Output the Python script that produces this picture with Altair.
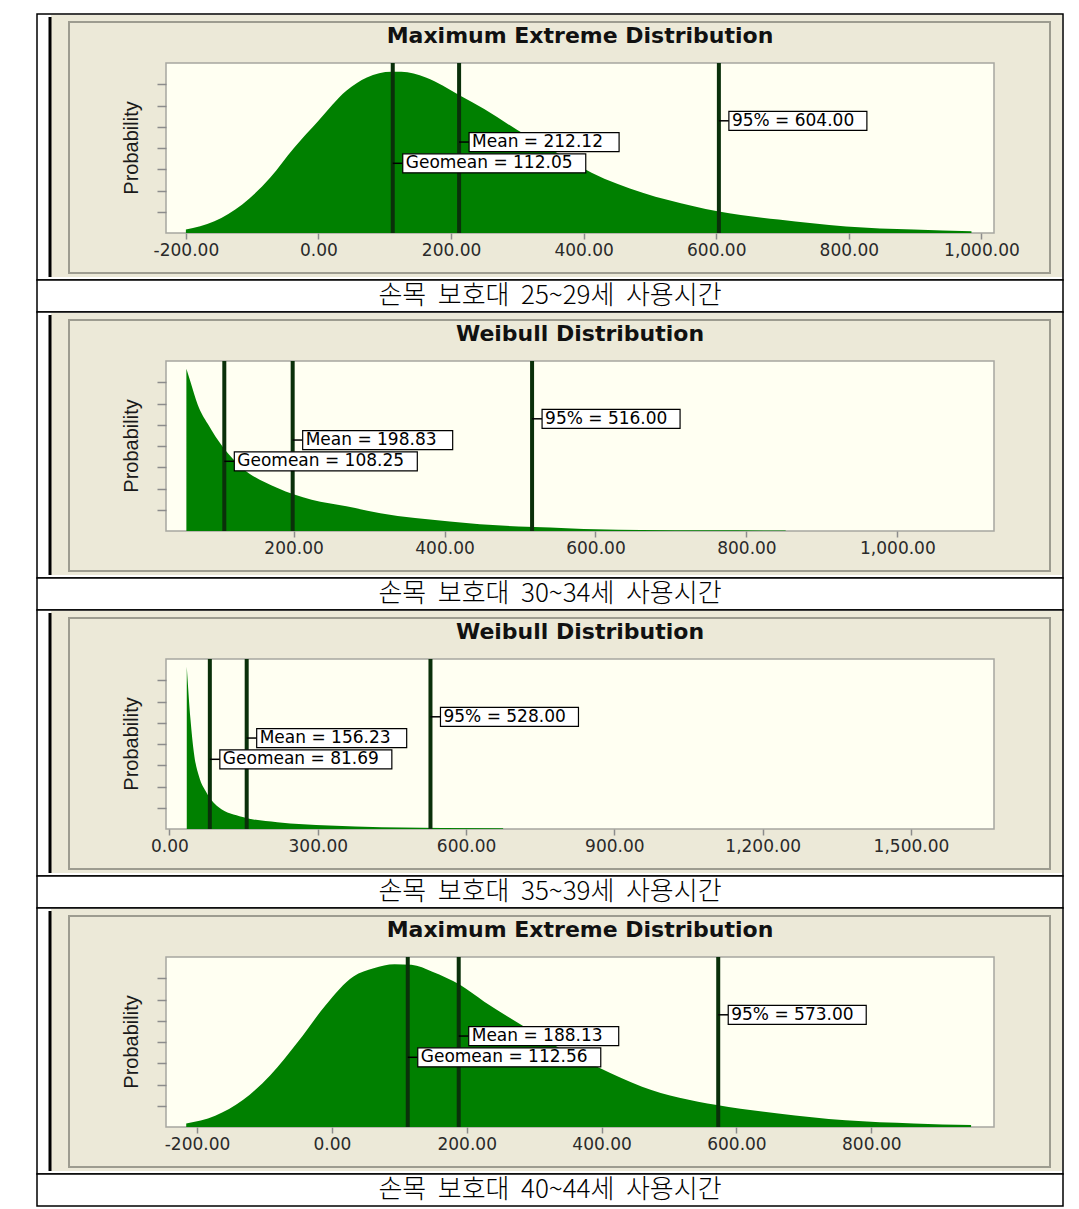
import altair as alt
import pandas as pd

# ---------------- data ----------------
titles = ["Maximum Extreme Distribution", "Weibull Distribution",
          "Weibull Distribution", "Maximum Extreme Distribution"]
captions = ["손목 보호대 25~29세 사용시간", "손목 보호대 30~34세 사용시간",
            "손목 보호대 35~39세 사용시간", "손목 보호대 40~44세 사용시간"]

x_25 = [-200, -157, -115, -73, -37, 0, 42, 73, 110, 125, 162, 214, 250, 300, 350,
        412, 489, 566, 602, 694, 796, 898, 985]
p_25 = [0.16, 0.55, 1.34, 2.6, 4.0, 5.28, 6.69, 7.32, 7.59, 7.59, 7.32, 6.46, 5.83,
        4.85, 3.95, 2.83, 1.89, 1.26, 1.02, 0.63, 0.31, 0.16, 0.08]

x_30 = [58, 63.6, 72.8, 86.5, 107, 132, 178, 224, 270, 315, 407, 498, 540, 569,
        600, 660, 750, 852]
p_30 = [7.63, 7.0, 5.97, 5.03, 3.92, 2.97, 2.03, 1.47, 1.16, 0.84, 0.45, 0.21, 0.16,
        0.12, 0.08, 0.05, 0.03, 0.02]

x_35 = [35, 42.5, 49.5, 60, 74, 99, 148, 218, 323, 429, 675]
p_35 = [7.64, 5.17, 3.58, 2.46, 1.75, 1.03, 0.56, 0.32, 0.16, 0.08, 0.03]

x_40 = [-216, -173, -132, -91, -50, -9, 32, 62, 93, 118, 149, 190, 226, 277, 330,
        395, 460, 571, 662, 762, 863, 948]
p_40 = [0.17, 0.53, 1.27, 2.45, 4.02, 5.74, 7.08, 7.47, 7.66, 7.63, 7.31, 6.69, 5.9,
        4.88, 3.85, 2.81, 1.9, 1.03, 0.64, 0.32, 0.17, 0.09]

curves_x = [x_25, x_30, x_35, x_40]
curves_p = [p_25, p_30, p_35, p_40]

mean_vals = [212.12, 198.83, 156.23, 188.13]
geomean_vals = [112.05, 108.25, 81.69, 112.56]
p95_vals = [604.00, 516.00, 528.00, 573.00]

x_domains = [[-230, 1019], [31, 1128], [-7, 1668], [-246, 982]]
x_ticks = [[-200, 0, 200, 400, 600, 800, 1000],
           [200, 400, 600, 800, 1000],
           [0, 300, 600, 900, 1200, 1500],
           [-200, 0, 200, 400, 600, 800]]
y_ticks = [1, 2, 3, 4, 5, 6, 7]
label_levels = [5.28, 4.28, 3.28]   # 95%, Mean, Geomean

# ---------------- style ----------------
W, H = 828, 170
GREEN = "#008000"
LINE = "#0A300A"
BEIGE = "#ECE9D8"
IVORY = "#FFFFF2"
MINUS = "\u2212"
WIDE_SPACE = "\u00a0\u00a0"


def panel(i):
    xscale = alt.Scale(domain=x_domains[i], nice=False, zero=False)
    yscale = alt.Scale(domain=[0, 8], nice=False)
    xaxis = alt.Axis(values=x_ticks[i], title=None, grid=False, domain=False,
                     labelExpr=f"replace(format(datum.value, ',.2f'), '{MINUS}', '-')",
                     tickColor="#8C8C8C", tickSize=6, tickWidth=1.5,
                     labelFont="DejaVu Sans", labelFontSize=17, labelColor="#2A2A2A",
                     labelPadding=3, labelOverlap=False, labelFlush=False, zindex=1)
    yaxis = alt.Axis(values=y_ticks, labels=False, title=None, grid=False, domain=False,
                     tickColor="#8C8C8C", tickSize=9, tickWidth=1.5, zindex=1)

    one = alt.Chart(pd.DataFrame({"k": [0]}))

    cell = one.mark_rect(fill="white", stroke="black", strokeWidth=1.5).encode(
        x=alt.value(-129), x2=alt.value(897), y=alt.value(-49), y2=alt.value(217))
    beige = one.mark_rect(fill=BEIGE).encode(
        x=alt.value(-115), x2=alt.value(896), y=alt.value(-48), y2=alt.value(214))
    thick = one.mark_rule(color="black", strokeWidth=3).encode(
        x=alt.value(-116), y=alt.value(-46), y2=alt.value(214))
    frame = one.mark_rect(fill=BEIGE, stroke="#9D9C90", strokeWidth=2).encode(
        x=alt.value(-97), x2=alt.value(884), y=alt.value(-41), y2=alt.value(210))
    cap_box = one.mark_rect(fill="white", stroke="black", strokeWidth=1.5).encode(
        x=alt.value(-129), x2=alt.value(897), y=alt.value(217), y2=alt.value(249))
    plot_bg = one.mark_rect(fill=IVORY, stroke="#A7A7A0", strokeWidth=1.5).encode(
        x=alt.value(0), x2=alt.value(W), y=alt.value(0), y2=alt.value(H))

    df = pd.DataFrame({"x": curves_x[i], "p": curves_p[i]})
    area = alt.Chart(df).mark_area(color=GREEN, interpolate="monotone").encode(
        x=alt.X("x:Q", scale=xscale, axis=xaxis),
        y=alt.Y("p:Q", scale=yscale, axis=yaxis))

    labels = [f"95% = {p95_vals[i]:.2f}", f"Mean = {mean_vals[i]:.2f}",
              f"Geomean = {geomean_vals[i]:.2f}"]
    stats = pd.DataFrame({"v": [p95_vals[i], mean_vals[i], geomean_vals[i]],
                          "label": labels, "level": label_levels})
    sx = alt.X("v:Q", scale=xscale, axis=xaxis)
    sy = alt.Y("level:Q", scale=yscale, axis=yaxis)

    rules = alt.Chart(stats).mark_rule(color=LINE, strokeWidth=4).encode(x=sx)
    conn = alt.Chart(stats).mark_rule(color="black", strokeWidth=1.5, x2Offset=10).encode(
        x=sx, x2="v:Q", y=sy)

    boxes = []
    for j in range(3):
        w = round(11.2 * len(labels[j]) + 4)
        boxes.append(
            alt.Chart(stats.iloc[[j]]).mark_rect(
                fill="white", stroke="black", strokeWidth=1.2,
                xOffset=10, x2Offset=10 + w, yOffset=-9.5, y2Offset=9.5).encode(
                x=sx, x2="v:Q", y=sy, y2="level:Q"))

    texts = alt.Chart(stats).mark_text(align="left", baseline="middle", dx=13,
                                       font="DejaVu Sans", fontSize=17,
                                       color="black").encode(x=sx, y=sy, text="label:N")

    title = one.mark_text(font="DejaVu Sans", fontSize=22, fontWeight="bold",
                          color="#111111", baseline="middle").encode(
        x=alt.value(W / 2), y=alt.value(-27), text=alt.value(titles[i]))
    prob = one.mark_text(font="Liberation Sans", fontSize=20, angle=270,
                         color="#1A1A1A", baseline="middle").encode(
        x=alt.value(-34), y=alt.value(H / 2), text=alt.value("Probability"))
    cap = one.mark_text(font="Noto Sans CJK KR", fontSize=26, fontWeight=300,
                        color="black", baseline="middle").encode(
        x=alt.value(384), y=alt.value(233),
        text=alt.value(captions[i].replace(" ", WIDE_SPACE)))

    return alt.layer(cell, beige, thick, frame, cap_box, plot_bg, area, rules, conn,
                     *boxes, texts, title, prob, cap).properties(width=W, height=H)


chart = alt.vconcat(*[panel(i) for i in range(4)], spacing=128, bounds="flush").properties(
    padding={"left": 36, "top": 13, "right": 4, "bottom": 4},
    background="white",
).configure_view(strokeWidth=0)

chart.save("out.html", embed_options={"renderer": "svg", "actions": False})
